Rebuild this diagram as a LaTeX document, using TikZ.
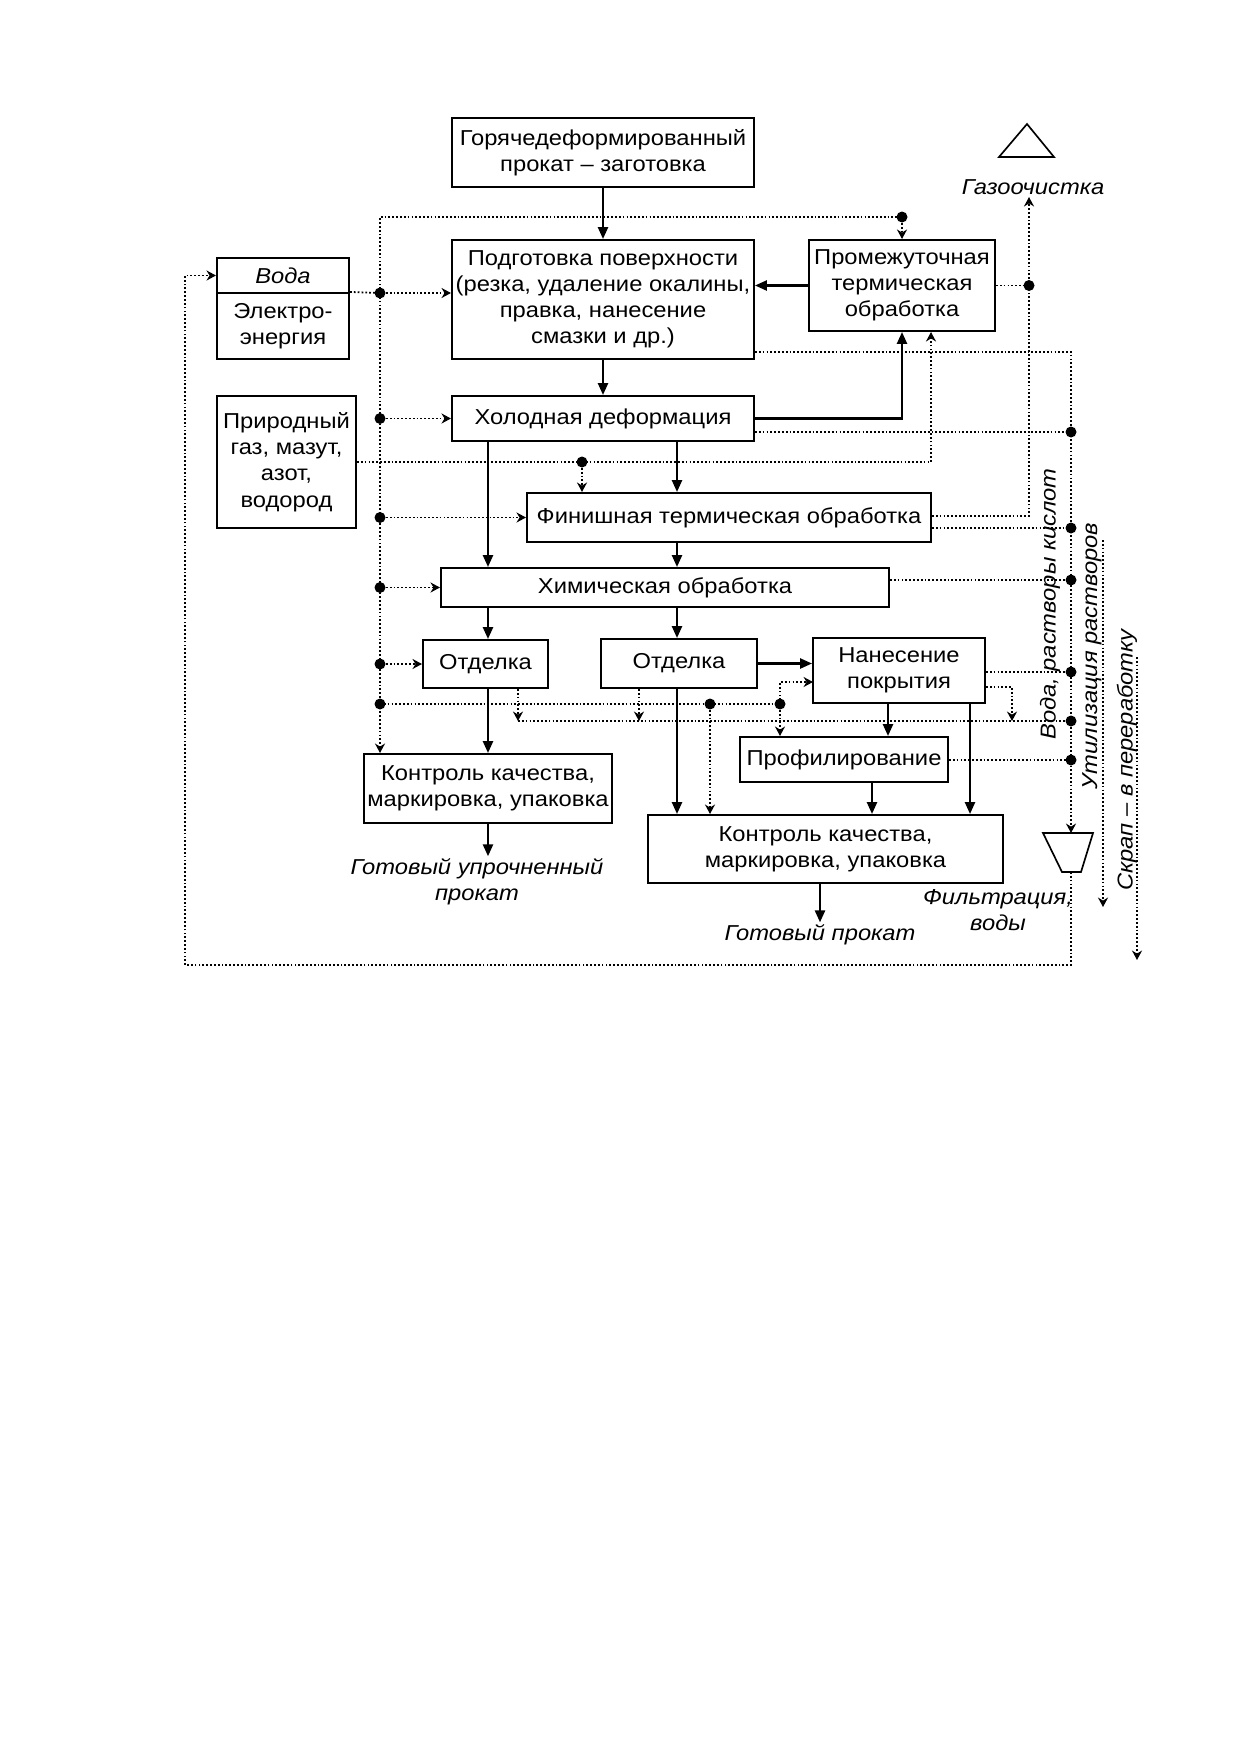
\documentclass[tikz,border=0pt]{standalone}
\usepackage{fontspec}
\setmainfont{Liberation Sans}[FakeStretch=1.1]
\usetikzlibrary{arrows.meta}
\newlength\pxu
\setlength\pxu{0.16935mm}
\newcommand\boxfont{\fontsize{10.4}{12.6}\selectfont}

\begin{document}
\begin{tikzpicture}[x=0.16935mm,y=-0.16935mm,
    box/.style={draw,line width=1pt,align=center,inner sep=0pt,font=\boxfont},
    lbl/.style={align=center,inner sep=1pt,font=\boxfont\itshape},
    flow/.style={line width=1pt,-{Triangle[length=2mm,width=1.7mm]}},
    aux/.style={densely dotted,line width=0.85pt,-{Stealth[length=1.6mm,width=1.7mm]}},
    auxl/.style={densely dotted,line width=0.85pt},
    jn/.style={circle,fill,inner sep=0pt,minimum size=11\pxu}]
  \fill[white] (0,0) rectangle (1240,1754);
  \useasboundingbox (0,0) rectangle (1240,1754);

  % boxes
  \node[box,minimum width=302\pxu,minimum height=69\pxu] (hot) at (603,152.5) {Горячедеформированный\\прокат – заготовка};
  \node[box,minimum width=302\pxu,minimum height=119\pxu] (prep) at (603,299.5) {Подготовка поверхности\\(резка, удаление окалины,\\правка, нанесение\\смазки и др.)};
  \node[box,minimum width=186\pxu,minimum height=91\pxu] (inter) at (902,285.5) {Промежуточная\\термическая\\обработка};
  \node[box,minimum width=132\pxu,minimum height=35\pxu,font=\boxfont\itshape] (water) at (283,275.5) {Вода};
  \node[box,minimum width=132\pxu,minimum height=66\pxu] (elec) at (283,326) {Электро-\\энергия};
  \node[box,minimum width=302\pxu,minimum height=45\pxu] (cold) at (603,418.5) {Холодная деформация};
  \node[box,minimum width=139\pxu,minimum height=132\pxu] (gas) at (286.5,462) {Природный\\газ, мазут,\\азот,\\водород};
  \node[box,minimum width=404\pxu,minimum height=49\pxu] (fin) at (729,517.5) {Финишная термическая обработка};
  \node[box,minimum width=448\pxu,minimum height=39\pxu] (chem) at (665,587.5) {Химическая обработка};
  \node[box,minimum width=125\pxu,minimum height=48\pxu] (otd1) at (485.5,664) {Отделка};
  \node[box,minimum width=156\pxu,minimum height=49\pxu] (otd2) at (679,663.5) {Отделка};
  \node[box,minimum width=172\pxu,minimum height=65\pxu] (coat) at (899,670.5) {Нанесение\\покрытия};
  \node[box,minimum width=208\pxu,minimum height=45\pxu] (prof) at (844,759.5) {Профилирование};
  \node[box,minimum width=248\pxu,minimum height=69\pxu] (qc1) at (488,788.5) {Контроль качества,\\маркировка, упаковка};
  \node[box,minimum width=355\pxu,minimum height=68\pxu] (qc2) at (825.5,849) {Контроль качества,\\маркировка, упаковка};

  % outputs and side labels
  \node[lbl] (out1) at (477,882) {Готовый упрочненный\\прокат};
  \node[lbl] (out2) at (820,935) {Готовый прокат};
  \node[lbl] (filtx) at (998,910) {Фильтрация,\\воды};
  \node[lbl] (gasx) at (1033,187) {Газоочистка};
  \node[lbl,rotate=90] (acid) at (1050,604) {Вода, растворы кислот};
  \node[lbl,rotate=90] (util) at (1092,656) {Утилизация растворов};
  \node[lbl,rotate=90] (scrap) at (1127,760) {Скрап – в переработку};

  % symbols
  \draw[line width=0.8pt] (999,157) -- (1027,124) -- (1054,157) -- cycle;
  \draw[line width=0.8pt] (1043,833) -- (1093,833) -- (1081,872) -- (1062,872) -- cycle;
  \coordinate (filtT) at (1071,833);
  \coordinate (filtB) at (1071,872);

  % columns of the main flow
  \coordinate (colA) at (488,0);
  \coordinate (colB) at (677,0);
  \coordinate (colC) at (888,0);
  \coordinate (colD) at (872,0);
  \coordinate (colE) at (970,0);

  \draw[flow] (hot.south) -- (prep.north);
  \draw[flow] (prep.south) -- (cold.north);
  \draw[flow] (inter.west) -- (inter.west -| prep.east);
  \draw[flow] (cold.east) -| (inter.south);
  \draw[flow] (cold.south -| colA) -- (chem.north -| colA);
  \draw[flow] (cold.south -| colB) -- (fin.north -| colB);
  \draw[flow] (fin.south -| colB) -- (chem.north -| colB);
  \draw[flow] (chem.south -| colA) -- (otd1.north -| colA);
  \draw[flow] (chem.south -| colB) -- (otd2.north -| colB);
  \draw[flow] (otd1.south -| colA) -- (qc1.north -| colA);
  \draw[flow] (otd2.south -| colB) -- (qc2.north -| colB);
  \draw[flow] (otd2.east) -- (otd2.east -| coat.west);
  \draw[flow] (coat.south -| colC) -- (prof.north -| colC);
  \draw[flow] (prof.south -| colD) -- (qc2.north -| colD);
  \draw[flow] (coat.south -| colE) -- (qc2.north -| colE);
  \draw[flow] (qc1.south) -- (qc1.south |- out1.north);
  \draw[flow] (qc2.south -| out2) -- (out2.north);

  % energy bus
  \node[jn] (jA) at (380,293) {};
  \node[jn] (jB) at (380,418.5) {};
  \node[jn] (jC) at (380,517.5) {};
  \node[jn] (jD) at (380,587.5) {};
  \node[jn] (jE) at (380,664) {};
  \node[jn] (jF) at (380,704) {};
  \node[jn] (jT) at (902,217) {};
  \node[jn] (jM1) at (710,704) {};
  \node[jn] (jM2) at (780,704) {};
  \coordinate (cCoat) at (813,682);
  \draw[auxl] (elec.north east) -- (jA.center);
  \draw[aux] (jA) -- (prep.west |- jA);
  \draw[auxl] (jA.center) |- (jT.center);
  \draw[aux] (jT) -- (inter.north);
  \draw[aux] (jA.center) -- (qc1.north -| jA);
  \draw[aux] (jB) -- (cold.west);
  \draw[aux] (jC) -- (fin.west);
  \draw[aux] (jD) -- (chem.west);
  \draw[aux] (jE) -- (otd1.west);
  \draw[auxl] (jF.center) -- (jM2.center);
  \draw[aux] (jM1) -- (jM1 |- qc2.north);
  \draw[aux] (jM2) -- (jM2 |- prof.north);
  \draw[aux] (jM2.center) |- (cCoat);

  % gas and fuel
  \node[jn] (jG) at (582,462) {};
  \coordinate (cG) at (931,462);
  \draw[auxl] (gas.east |- jG) -- (jG.center);
  \draw[aux] (jG.center) -- (cG) -- (cG |- inter.south);
  \draw[aux] (jG) -- (jG |- fin.north);

  % gas cleaning
  \node[jn] (jS) at (1029,285.5) {};
  \coordinate (cS) at (1029,516);
  \draw[auxl] (inter.east) -- (jS.center);
  \draw[aux] (fin.east |- cS) -- (cS) -- (cS |- gasx.south);

  % waste water bus
  \coordinate (cR) at (1071,352);
  \node[jn] (jR1) at (1071,432) {};
  \node[jn] (jR2) at (1071,528) {};
  \node[jn] (jR3) at (1071,580) {};
  \node[jn] (jR4) at (1071,672) {};
  \node[jn] (jR5) at (1071,721) {};
  \node[jn] (jR6) at (1071,760) {};
  \draw[aux] (prep.east |- cR) -- (cR) -- (filtT);
  \draw[auxl] (cold.east |- jR1) -- (jR1.center);
  \draw[auxl] (fin.east |- jR2) -- (jR2.center);
  \draw[auxl] (chem.east |- jR3) -- (jR3.center);
  \draw[auxl] (coat.east |- jR4) -- (jR4.center);
  \draw[auxl] (prof.east |- jR6) -- (jR6.center);

  % lower collector
  \coordinate (cL) at (518,721);
  \coordinate (cL2) at (639,721);
  \coordinate (cK) at (1012,687);
  \draw[auxl] (cL) -- (jR5.center);
  \draw[aux] (otd1.south -| cL) -- (cL);
  \draw[aux] (otd2.south -| cL2) -- (cL2);
  \draw[aux] (coat.east |- cK) -- (cK) -- (cK |- jR5);

  % water return
  \coordinate (cW) at (185,965);
  \draw[aux] (filtB) |- (cW) |- (water.west);

  % disposal
  \coordinate (uT) at (1103,540);
  \coordinate (uB) at (1103,907);
  \coordinate (sT) at (1137,657);
  \coordinate (sB) at (1137,960);
  \draw[aux] (uT) -- (uB);
  \draw[aux] (sT) -- (sB);
\end{tikzpicture}
\end{document}
